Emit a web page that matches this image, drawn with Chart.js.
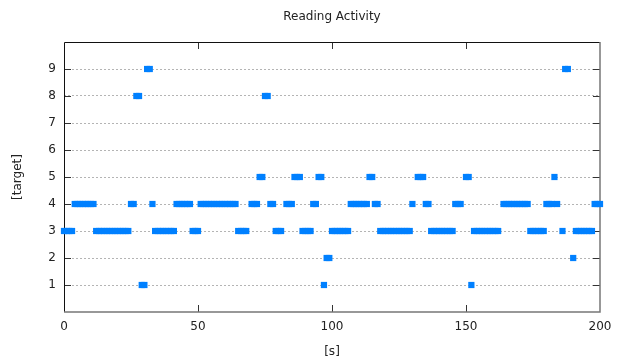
<!DOCTYPE html>
<html>
<head>
<meta charset="utf-8">
<script src="https://cdn.jsdelivr.net/npm/chart.js@4"></script>
<style>
  body { margin: 0; background: #fff; }
</style>
</head>
<body>
<canvas id="chart" width="625" height="361"></canvas>
<script>
// seconds with a reading sample (gaps where nothing was logged)
const seconds = [
  0, 1, 2, 3, 4, 5, 6, 7, 8, 9,
  10, 11, 12, 13, 14, 15, 16, 17, 18, 19,
  20, 21, 22, 23, 24, 25, 26, 27, 28, 29,
  30, 31, 32, 33, 34, 35, 36, 37, 38, 39,
  40, 41, 42, 43, 44, 45, 46, 47, 48, 49,
  50, 51, 52, 53, 54, 55, 56, 57, 58, 59,
  60, 61, 62, 63, 64, 65, 66, 67, 68,
  70, 71, 72, 73, 74, 75, 76, 77, 78, 79,
  80, 81, 83, 84, 85, 86, 87, 88, 89,
  90, 91, 92, 93, 94, 95, 96, 97, 98, 99,
  100, 101, 102, 103, 104, 105, 106, 107, 108, 109,
  110, 111, 112, 113, 114, 115, 116, 117, 118, 119,
  120, 121, 122, 123, 124, 125, 126, 127, 128, 129,
  130, 132, 133, 134, 135, 136, 137, 138, 139,
  140, 141, 142, 143, 144, 145, 146, 147, 148,
  150, 151, 152, 153, 154, 155, 156, 157, 158, 159,
  160, 161, 162, 164, 165, 166, 167, 168, 169,
  170, 171, 172, 173, 174, 175, 176, 177, 178, 179,
  180, 181, 182, 183, 184, 186, 187, 188,
  190, 191, 192, 193, 194, 195, 196, 197, 198, 199,
  200
];

const targets = [
  3, 3, 3, 3, 4, 4, 4, 4, 4, 4,
  4, 4, 3, 3, 3, 3, 3, 3, 3, 3,
  3, 3, 3, 3, 3, 4, 4, 8, 8, 1,
  1, 9, 9, 4, 3, 3, 3, 3, 3, 3,
  3, 3, 4, 4, 4, 4, 4, 4, 3, 3,
  3, 4, 4, 4, 4, 4, 4, 4, 4, 4,
  4, 4, 4, 4, 4, 3, 3, 3, 3,
  4, 4, 4, 5, 5, 8, 8, 4, 4, 3,
  3, 3, 4, 4, 4, 5, 5, 5, 3,
  3, 3, 3, 4, 4, 5, 5, 1, 2, 2,
  3, 3, 3, 3, 3, 3, 3, 4, 4, 4,
  4, 4, 4, 4, 5, 5, 4, 4, 3, 3,
  3, 3, 3, 3, 3, 3, 3, 3, 3, 3,
  4, 5, 5, 5, 4, 4, 3, 3, 3,
  3, 3, 3, 3, 3, 3, 4, 4, 4,
  5, 5, 1, 3, 3, 3, 3, 3, 3, 3,
  3, 3, 3, 4, 4, 4, 4, 4, 4,
  4, 4, 4, 4, 3, 3, 3, 3, 3, 3,
  4, 4, 4, 5, 4, 3, 9, 9,
  2, 3, 3, 3, 3, 3, 3, 3, 4, 4,
  4
];

const xTicks = [0, 50, 100, 150, 200];
const yTicks = [1, 2, 3, 4, 5, 6, 7, 8, 9];

const font = { family: 'DejaVu Sans', size: 12 };

// gnuplot style box with inward (mirrored) tick marks
const frame = {
  id: 'frame',
  beforeDatasetsDraw(chart) {
    const { ctx, chartArea: a, scales: { x, y } } = chart;
    ctx.save();
    ctx.lineWidth = 1;
    ctx.strokeStyle = '#333';
    ctx.beginPath();
    yTicks.forEach(v => {
      const py = Math.round(y.getPixelForValue(v)) + 0.5;
      ctx.moveTo(a.left, py);
      ctx.lineTo(a.left + 7, py);
      ctx.moveTo(a.right, py);
      ctx.lineTo(a.right - 7, py);
    });
    xTicks.slice(1, -1).forEach(v => {
      const px = Math.round(x.getPixelForValue(v)) + 0.5;
      ctx.moveTo(px, a.bottom);
      ctx.lineTo(px, a.bottom - 7);
      ctx.moveTo(px, a.top);
      ctx.lineTo(px, a.top + 7);
    });
    ctx.stroke();

    ctx.strokeStyle = '#111';
    ctx.beginPath();
    ctx.moveTo(a.left + 0.5, a.bottom);
    ctx.lineTo(a.left + 0.5, a.top + 0.5);
    ctx.lineTo(a.right, a.top + 0.5);
    ctx.stroke();

    ctx.strokeStyle = '#777';
    ctx.lineWidth = 1.5;
    ctx.beginPath();
    ctx.moveTo(a.right, a.top);
    ctx.lineTo(a.right, a.bottom);
    ctx.lineTo(a.left, a.bottom);
    ctx.stroke();
    ctx.restore();
  },
};

new Chart(document.getElementById('chart'), {
  type: 'scatter',
  plugins: [frame],
  data: {
    datasets: [
      {
        label: 'target',
        data: seconds.map((s, i) => ({ x: s, y: targets[i] })),
        backgroundColor: '#0080ff',
        borderColor: '#0080ff',
        borderWidth: 0,
        pointStyle: 'rect',
        pointRadius: 4.4,
        clip: false,
      },
    ],
  },
  options: {
    responsive: false,
    animation: false,
    devicePixelRatio: 1,
    events: [],
    layout: {
      padding: { left: 0, right: 25, top: 0, bottom: 0 },
    },
    plugins: {
      legend: { display: false },
      tooltip: { enabled: false },
      title: {
        display: true,
        text: 'Reading Activity',
        fullSize: false,
        color: '#222',
        font: { ...font, weight: 'normal' },
        padding: { top: 10, bottom: 17.6 },
      },
    },
    scales: {
      x: {
        type: 'linear',
        min: 0,
        max: 200,
        afterBuildTicks: scale => {
          scale.ticks = xTicks.map(v => ({ value: v }));
        },
        afterFit: scale => {
          scale.height = 49;
          scale.paddingLeft = 0;
          scale.paddingRight = 0;
        },
        grid: { display: false, drawTicks: false },
        border: { display: false },
        ticks: { color: '#222', font, padding: 8, maxRotation: 0 },
        title: {
          display: true,
          text: '[s]',
          color: '#222',
          font,
          padding: { top: 0, bottom: 2 },
        },
      },
      y: {
        min: 0,
        max: 10,
        afterBuildTicks: scale => {
          scale.ticks = [0, ...yTicks, 10].map(v => ({ value: v }));
        },
        afterFit: scale => {
          scale.width = 64;
          scale.paddingTop = 0;
          scale.paddingBottom = 0;
        },
        grid: {
          drawTicks: false,
          color: c => (yTicks.includes(c.tick.value) ? '#b4b4b4' : 'rgba(0,0,0,0)'),
          lineWidth: 1,
        },
        border: { display: false, dash: [2, 2] },
        ticks: {
          color: '#222',
          font,
          padding: 8,
          callback: v => (yTicks.includes(v) ? v : ''),
        },
        title: {
          display: true,
          text: '[target]',
          color: '#222',
          font,
          padding: { top: 11, bottom: 0 },
        },
      },
    },
  },
});
</script>
</body>
</html>
